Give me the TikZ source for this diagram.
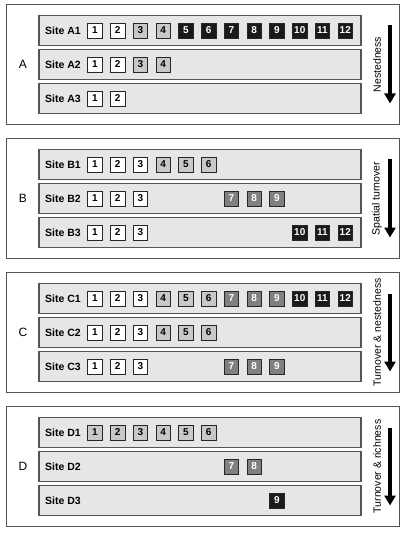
\documentclass[tikz,border=0pt]{standalone}
\usepackage{fontspec}
\setmainfont{Liberation Sans}
\usetikzlibrary{arrows.meta}
\definecolor{barfill}{HTML}{E6E6E6}
\definecolor{barline}{HTML}{555555}
\definecolor{lightsp}{HTML}{C8C8C8}
\definecolor{midsp}{HTML}{808080}
\definecolor{darksp}{HTML}{1A1A1A}

\begin{document}
\begin{tikzpicture}[x=1pt,y=-1pt,
    panel/.style={draw=barline,line width=0.8pt},
    letter/.style={font=\fontsize{12}{14}\selectfont},
    bar/.style={draw=barline,fill=barfill,line width=1.3pt,minimum width=322pt,minimum height=30pt,inner sep=0pt},
    site/.style={anchor=west,inner sep=0pt,font=\bfseries\fontsize{10.5}{12}\selectfont},
    sp/.style={draw=black!85,line width=0.9pt,minimum width=14.5pt,minimum height=15pt,inner sep=0pt,font=\bfseries\fontsize{10}{11}\selectfont},
    sw/.style={sp,fill=white},
    sl/.style={sp,fill=lightsp},
    sm/.style={sp,fill=midsp,text=white},
    sd/.style={sp,fill=darksp,text=white},
    trend/.style={line width=3.5pt,-{Triangle[width=11pt,length=10pt]}},
    trendtext/.style={rotate=90,font=\fontsize{10.5}{12}\selectfont}]
    \useasboundingbox (0,0) rectangle (406,534);

    % A: nestedness
    \begin{scope}[shift={(0,4.5)}]
        \draw[panel] (6,0) rectangle (399.5,120);
        \node[letter] (A) at (23,60) {A};
        \node[bar] (a1) at (200,26) {};
        \node[bar] (a2) at (200,60) {};
        \node[bar] (a3) at (200,94) {};
        \node[site] (a1l) at (45,26) {Site A1};
        \node[site] (a2l) at (45,60) {Site A2};
        \node[site] (a3l) at (45,94) {Site A3};
        \foreach \k/\s in {1/sw,2/sw,3/sl,4/sl,5/sd,6/sd,7/sd,8/sd,9/sd,10/sd,11/sd,12/sd}
            \node[\s] (a1-\k) at ({95+(\k-1)*22.75},26) {\k};
        \foreach \k/\s in {1/sw,2/sw,3/sl,4/sl}
            \node[\s] (a2-\k) at ({95+(\k-1)*22.75},60) {\k};
        \foreach \k/\s in {1/sw,2/sw}
            \node[\s] (a3-\k) at ({95+(\k-1)*22.75},94) {\k};
        \coordinate (atop) at (390,21);
        \coordinate (abot) at (390,99);
        \draw[trend] (atop) -- (abot);
        \node[trendtext] (at) at (377,60) {Nestedness};
    \end{scope}

    % B: spatial turnover
    \begin{scope}[shift={(0,138.5)}]
        \draw[panel] (6,0) rectangle (399.5,120);
        \node[letter] (B) at (23,60) {B};
        \node[bar] (b1) at (200,26) {};
        \node[bar] (b2) at (200,60) {};
        \node[bar] (b3) at (200,94) {};
        \node[site] (b1l) at (45,26) {Site B1};
        \node[site] (b2l) at (45,60) {Site B2};
        \node[site] (b3l) at (45,94) {Site B3};
        \foreach \k/\s in {1/sw,2/sw,3/sw,4/sl,5/sl,6/sl}
            \node[\s] (b1-\k) at ({95+(\k-1)*22.75},26) {\k};
        \foreach \k/\s in {1/sw,2/sw,3/sw,7/sm,8/sm,9/sm}
            \node[\s] (b2-\k) at ({95+(\k-1)*22.75},60) {\k};
        \foreach \k/\s in {1/sw,2/sw,3/sw,10/sd,11/sd,12/sd}
            \node[\s] (b3-\k) at ({95+(\k-1)*22.75},94) {\k};
        \coordinate (btop) at (390,21);
        \coordinate (bbot) at (390,99);
        \draw[trend] (btop) -- (bbot);
        \node[trendtext] (bt) at (377,60) {Spatial turnover};
    \end{scope}

    % C: turnover and nestedness
    \begin{scope}[shift={(0,272.5)}]
        \draw[panel] (6,0) rectangle (399.5,120);
        \node[letter] (C) at (23,60) {C};
        \node[bar] (c1) at (200,26) {};
        \node[bar] (c2) at (200,60) {};
        \node[bar] (c3) at (200,94) {};
        \node[site] (c1l) at (45,26) {Site C1};
        \node[site] (c2l) at (45,60) {Site C2};
        \node[site] (c3l) at (45,94) {Site C3};
        \foreach \k/\s in {1/sw,2/sw,3/sw,4/sl,5/sl,6/sl,7/sm,8/sm,9/sm,10/sd,11/sd,12/sd}
            \node[\s] (c1-\k) at ({95+(\k-1)*22.75},26) {\k};
        \foreach \k/\s in {1/sw,2/sw,3/sw,4/sl,5/sl,6/sl}
            \node[\s] (c2-\k) at ({95+(\k-1)*22.75},60) {\k};
        \foreach \k/\s in {1/sw,2/sw,3/sw,7/sm,8/sm,9/sm}
            \node[\s] (c3-\k) at ({95+(\k-1)*22.75},94) {\k};
        \coordinate (ctop) at (390,21);
        \coordinate (cbot) at (390,99);
        \draw[trend] (ctop) -- (cbot);
        \node[trendtext] (ct) at (377,60) {Turnover \& nestedness};
    \end{scope}

    % D: turnover and richness
    \begin{scope}[shift={(0,406.5)}]
        \draw[panel] (6,0) rectangle (399.5,120);
        \node[letter] (D) at (23,60) {D};
        \node[bar] (d1) at (200,26) {};
        \node[bar] (d2) at (200,60) {};
        \node[bar] (d3) at (200,94) {};
        \node[site] (d1l) at (45,26) {Site D1};
        \node[site] (d2l) at (45,60) {Site D2};
        \node[site] (d3l) at (45,94) {Site D3};
        \foreach \k/\s in {1/sl,2/sl,3/sl,4/sl,5/sl,6/sl}
            \node[\s] (d1-\k) at ({95+(\k-1)*22.75},26) {\k};
        \foreach \k/\s in {7/sm,8/sm}
            \node[\s] (d2-\k) at ({95+(\k-1)*22.75},60) {\k};
        \foreach \k/\s in {9/sd}
            \node[\s] (d3-\k) at ({95+(\k-1)*22.75},94) {\k};
        \coordinate (dtop) at (390,21);
        \coordinate (dbot) at (390,99);
        \draw[trend] (dtop) -- (dbot);
        \node[trendtext] (dt) at (377,60) {Turnover \& richness};
    \end{scope}
\end{tikzpicture}
\end{document}
